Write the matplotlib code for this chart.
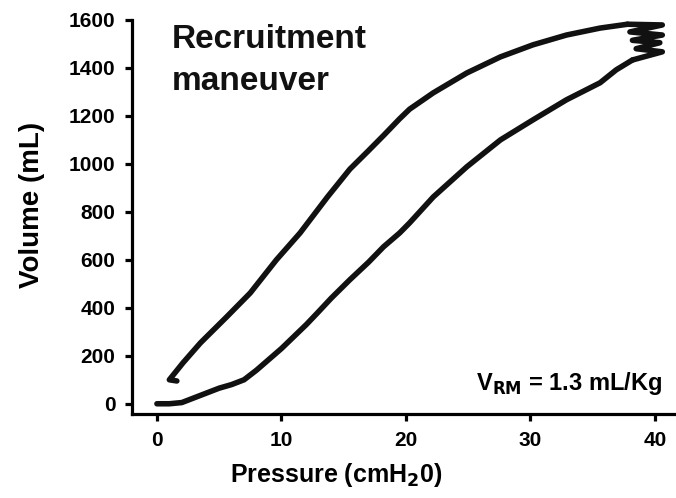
import matplotlib.pyplot as plt

# inflation limb (pressure cmH2O, volume mL)
p_infl = [0, 1, 2, 3, 4, 5, 6, 7, 8, 9, 10, 11, 12, 12.9, 14, 15.5, 17, 18.2, 19.5, 20.3,
          22.2, 24.9, 27.6, 30.2, 32.9, 35.6, 36.9, 38.2]
v_infl = [0, 0, 5, 25, 45, 65, 80, 100, 140, 185, 230, 280, 330, 379, 440, 517, 590, 654, 712, 754,
          862, 988, 1100, 1183, 1267, 1338, 1392, 1433]

# ripples at peak pressure
p_peak = [38.2, 40.6, 38.5, 40.4, 38.2, 40.6, 38.0, 40.6, 37.8]
v_peak = [1433, 1467, 1480, 1505, 1515, 1537, 1550, 1579, 1582]

# deflation limb
p_defl = [37.8, 35.6, 32.9, 30.2, 27.6, 24.9, 22.2, 20.3, 19.5, 18.2, 16.9, 15.5, 13.7, 11.5,
          9.6, 7.5, 5.6, 3.5, 2.1, 1.0, 1.6]
v_defl = [1582, 1566, 1537, 1496, 1446, 1379, 1296, 1228, 1188, 1118, 1050, 978, 862, 712,
          600, 462, 362, 254, 171, 100, 95]

plt.rcParams['font.family'] = ['Liberation Sans', 'DejaVu Sans']

fig = plt.figure(figsize=(6.76, 4.98), dpi=100)
ax = fig.add_axes([0.1953, 0.169, 0.8047, 0.791])

style = dict(color='#111111', lw=4, solid_capstyle='round', solid_joinstyle='round')
ax.plot(p_infl, v_infl, **style)
ax.plot(p_peak, v_peak, **style)
ax.plot(p_defl, v_defl, **style)

ax.set_xlim(-2, 41.7)
ax.set_ylim(-42, 1600)
ax.set_xticks([0, 10, 20, 30, 40])
ax.set_yticks(range(0, 1601, 200))

for s in ['top', 'right']:
    ax.spines[s].set_visible(False)
for s in ['left', 'bottom']:
    ax.spines[s].set_linewidth(2.3)
ax.tick_params(direction='out', length=5, width=2.3, labelsize=15, pad=7)
for lab in ax.get_xticklabels() + ax.get_yticklabels():
    lab.set_fontweight('bold')

ax.set_xlabel('Pressure (cmH$_\\mathbf{2}$0)', fontsize=18, fontweight='bold')
ax.set_ylabel('Volume (mL)', fontsize=20, fontweight='bold')
ax.xaxis.set_label_coords(0.375, -0.12)
ax.yaxis.set_label_coords(-0.16, 0.53)

ax.text(1.2, 1582, 'Recruitment\nmaneuver', fontsize=24, fontweight='bold',
        va='top', ha='left', linespacing=1.45, color='#111111')
ax.text(40.6, 58, r'V$_{\mathbf{RM}}$ = 1.3 mL/Kg', fontsize=17, fontweight='bold',
        va='baseline', ha='right')

fig.savefig('out.png', dpi=100)
